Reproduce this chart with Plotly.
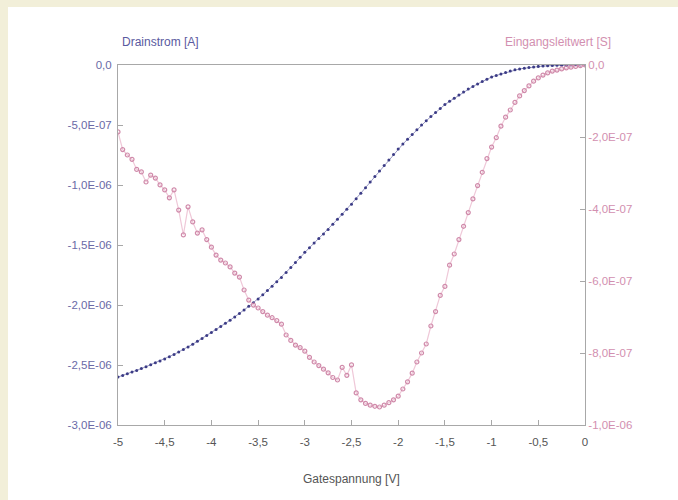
import plotly.graph_objects as go

# Gate voltage grid [V]
gate_v = [-5.00, -4.95, -4.90, -4.85, -4.80, -4.75, -4.70, -4.65, -4.60, -4.55,
          -4.50, -4.45, -4.40, -4.35, -4.30, -4.25, -4.20, -4.15, -4.10, -4.05,
          -4.00, -3.95, -3.90, -3.85, -3.80, -3.75, -3.70, -3.65, -3.60, -3.55,
          -3.50, -3.45, -3.40, -3.35, -3.30, -3.25, -3.20, -3.15, -3.10, -3.05,
          -3.00, -2.95, -2.90, -2.85, -2.80, -2.75, -2.70, -2.65, -2.60, -2.55,
          -2.50, -2.45, -2.40, -2.35, -2.30, -2.25, -2.20, -2.15, -2.10, -2.05,
          -2.00, -1.95, -1.90, -1.85, -1.80, -1.75, -1.70, -1.65, -1.60, -1.55,
          -1.50, -1.45, -1.40, -1.35, -1.30, -1.25, -1.20, -1.15, -1.10, -1.05,
          -1.00, -0.95, -0.90, -0.85, -0.80, -0.75, -0.70, -0.65, -0.60, -0.55,
          -0.50, -0.45, -0.40, -0.35, -0.30, -0.25, -0.20, -0.15, -0.10, -0.05,
          0.00]

# Drain current [uA]
drain_ua = [-2.600, -2.587, -2.573, -2.559, -2.545, -2.530, -2.514, -2.498, -2.482, -2.466,
            -2.450, -2.431, -2.412, -2.391, -2.371, -2.350, -2.327, -2.303, -2.279, -2.255,
            -2.230, -2.205, -2.179, -2.153, -2.127, -2.100, -2.071, -2.041, -2.011, -1.981,
            -1.950, -1.915, -1.880, -1.843, -1.807, -1.770, -1.729, -1.688, -1.646, -1.603,
            -1.560, -1.522, -1.484, -1.446, -1.408, -1.370, -1.328, -1.286, -1.244, -1.202,
            -1.160, -1.114, -1.068, -1.022, -0.976, -0.930, -0.884, -0.838, -0.792, -0.746,
            -0.700, -0.659, -0.619, -0.579, -0.539, -0.500, -0.465, -0.430, -0.396, -0.363,
            -0.330, -0.303, -0.277, -0.251, -0.225, -0.200, -0.179, -0.158, -0.138, -0.119,
            -0.100, -0.087, -0.075, -0.063, -0.051, -0.040, -0.033, -0.027, -0.021, -0.016,
            -0.012, -0.009, -0.007, -0.005, -0.003, -0.002, -0.0015, -0.001, -0.0005, -0.0002,
            0.0]

# Input conductance [1e-7 S]
cond_e7 = [-1.86, -2.35, -2.50, -2.62, -2.90, -2.97, -3.25, -3.06, -3.14, -3.33,
           -3.47, -3.69, -3.47, -4.03, -4.72, -3.94, -4.36, -4.67, -4.58, -4.85,
           -5.06, -5.28, -5.42, -5.50, -5.61, -5.78, -5.89, -6.25, -6.53, -6.67,
           -6.75, -6.85, -6.95, -7.02, -7.10, -7.20, -7.50, -7.65, -7.78, -7.85,
           -7.95, -8.12, -8.25, -8.35, -8.45, -8.55, -8.68, -8.75, -8.40, -8.62,
           -8.33, -9.11, -9.30, -9.40, -9.45, -9.48, -9.50, -9.45, -9.38, -9.30,
           -9.20, -9.00, -8.80, -8.56, -8.25, -8.00, -7.75, -7.25, -6.85, -6.40,
           -6.15, -5.56, -5.25, -4.85, -4.48, -4.10, -3.72, -3.35, -2.98, -2.60,
           -2.28, -2.02, -1.70, -1.45, -1.25, -1.04, -0.86, -0.71, -0.58, -0.45,
           -0.36, -0.28, -0.22, -0.17, -0.14, -0.11, -0.08, -0.06, -0.04, -0.02,
           0.0]

x_ticks = [-5, -4.5, -4, -3.5, -3, -2.5, -2, -1.5, -1, -0.5, 0]
x_ticktext = ["-5", "-4,5", "-4", "-3,5", "-3", "-2,5", "-2", "-1,5", "-1", "-0,5", "0"]
y1_ticks = [0, -5e-7, -1e-6, -1.5e-6, -2e-6, -2.5e-6, -3e-6]
y1_ticktext = ["0,0", "-5,0E-07", "-1,0E-06", "-1,5E-06", "-2,0E-06", "-2,5E-06", "-3,0E-06"]
y2_ticks = [0, -2e-7, -4e-7, -6e-7, -8e-7, -1e-6]
y2_ticktext = ["0,0", "-2,0E-07", "-4,0E-07", "-6,0E-07", "-8,0E-07", "-1,0E-06"]

drain_a = [v * 1e-6 for v in drain_ua]
cond_s = [v * 1e-7 for v in cond_e7]

BLUE = "#3c3c86"
PINK = "#d08aaa"
FONT = "Liberation Sans"

fig = go.Figure()
fig.add_trace(go.Scatter(
    x=gate_v, y=cond_s, yaxis="y2", mode="lines+markers",
    line=dict(color="#efc8d8", width=1.2),
    marker=dict(color=PINK, size=4, symbol="circle-open", line=dict(width=1.2, color=PINK)),
    showlegend=False))
fig.add_trace(go.Scatter(
    x=gate_v, y=drain_a, mode="lines+markers",
    line=dict(color="#9a9ac4", width=1),
    marker=dict(color=BLUE, size=3),
    showlegend=False))

axis_common = dict(showgrid=False, zeroline=False, showline=True, linecolor="#a8a8a8",
                   linewidth=1, ticks="inside", ticklen=5, tickcolor="#a8a8a8")

fig.update_layout(
    width=678, height=500,
    margin=dict(l=118, r=93, t=65, b=75),
    paper_bgcolor="#f2efd9", plot_bgcolor="white",
    font=dict(family=FONT, size=11, color="#555555"),
    xaxis=dict(range=[-5, 0], tickvals=x_ticks, ticktext=x_ticktext, mirror=True,
               ticklabelstandoff=6,
               tickfont=dict(size=11.5, color="#555555"), **axis_common),
    yaxis=dict(range=[-3e-6, 0], tickvals=y1_ticks, ticktext=y1_ticktext,
               ticklabelstandoff=3,
               tickfont=dict(size=11.5, color="#6a6aa6"), **axis_common),
    yaxis2=dict(range=[-1e-6, 0], tickvals=y2_ticks, ticktext=y2_ticktext,
                overlaying="y", side="right",
                tickfont=dict(size=11.5, color="#d28fb0"), **axis_common),
    shapes=[dict(type="rect", xref="paper", yref="paper", x0=-0.2355, x1=1.3,
                 y0=-0.35, y1=1.161, fillcolor="white", line=dict(width=0), layer="below")],
    annotations=[
        dict(text="Drainstrom [A]", xref="paper", yref="paper", x=0.005, y=1.065,
             xanchor="left", yanchor="middle", showarrow=False,
             font=dict(family=FONT, size=12, color="#5a5aa0")),
        dict(text="Eingangsleitwert [S]", xref="paper", yref="paper", x=1.06, y=1.065,
             xanchor="right", yanchor="middle", showarrow=False,
             font=dict(family=FONT, size=12, color="#d28fb0")),
        dict(text="Gatespannung [V]", xref="paper", yref="paper", x=0.5, y=-0.15,
             xanchor="center", yanchor="middle", showarrow=False,
             font=dict(family=FONT, size=12, color="#555555")),
    ],
)

fig.write_html("out.html")
